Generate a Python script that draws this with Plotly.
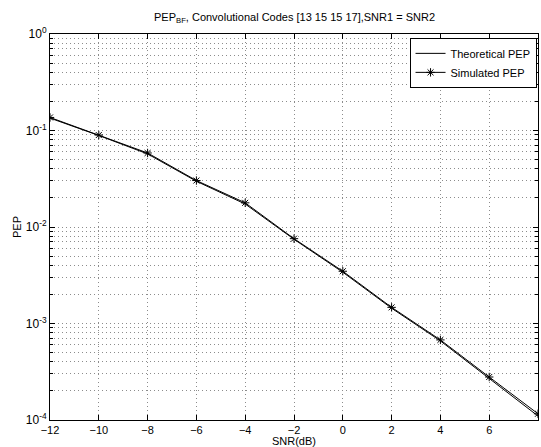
import plotly.graph_objects as go

snr_db = [-12, -10, -8, -6, -4, -2, 0, 2, 4, 6, 8]
pep_theoretical = [0.1345, 0.0888, 0.0572, 0.0298, 0.0173, 0.00746, 0.00340, 0.00144, 0.000660, 0.000272, 0.000110]
pep_simulated = [0.1365, 0.0897, 0.0585, 0.0303, 0.0178, 0.00757, 0.00348, 0.00147, 0.000676, 0.000279, 0.000116]

x_ticks = [-12, -10, -8, -6, -4, -2, 0, 2, 4, 6, 8]
decades = [-4, -3, -2, -1, 0]

y_tickvals = [10.0 ** d for d in decades]
y_ticktext = [f"10<sup>{d}</sup>" for d in decades]

font = "Liberation Sans, Arial, Helvetica, sans-serif"

fig = go.Figure()
fig.add_trace(go.Scatter(
    x=snr_db, y=pep_theoretical, mode="lines", name="Theoretical PEP",
    line=dict(color="black", width=1),
))
fig.add_trace(go.Scatter(
    x=snr_db, y=pep_simulated, mode="lines+markers", name="Simulated PEP",
    line=dict(color="black", width=1),
    marker=dict(symbol="asterisk-open", size=7, color="black", line=dict(width=1, color="black")),
))

fig.update_layout(
    width=541, height=447,
    margin=dict(l=50, r=2, t=34, b=25),
    paper_bgcolor="white", plot_bgcolor="white",
    font=dict(family=font, size=11, color="black"),
    title=dict(text="PEP<sub>BF</sub>, Convolutional Codes [13 15 15 17],SNR1 = SNR2",
               x=(50 + 539) / 2 / 541, xanchor="center", y=1 - 17 / 447, yanchor="middle",
               font=dict(size=11)),
    legend=dict(x=0.997, y=0.99, xanchor="right", yanchor="top",
                bgcolor="white", bordercolor="black", borderwidth=1,
                font=dict(size=11), tracegroupgap=0, itemwidth=30),
    showlegend=True,
)

grid_color = "#8c8c8c"
grid_dash = "1px,3px"

fig.update_xaxes(
    range=[-12, 8], tickvals=x_ticks, ticktext=[("\u2212" + str(-v)) if v < 0 else str(v) for v in x_ticks],
    showline=True, linecolor="black", linewidth=1, mirror="allticks",
    ticks="inside", ticklen=5, tickcolor="black",
    showgrid=True, gridcolor=grid_color, griddash=grid_dash, gridwidth=1,
    zeroline=False,
    title=dict(text="SNR(dB)", standoff=1, font=dict(size=11)),
    tickfont=dict(size=11),
)
fig.update_yaxes(
    type="log", range=[-4, 0], tickvals=y_tickvals, ticktext=y_ticktext,
    showline=True, linecolor="black", linewidth=1, mirror="allticks",
    ticks="inside", ticklen=5, tickcolor="black",
    showgrid=True, gridcolor=grid_color, griddash=grid_dash, gridwidth=1,
    minor=dict(dtick="D1", ticks="inside", ticklen=3, tickcolor="black",
               showgrid=True, gridcolor=grid_color, griddash=grid_dash, gridwidth=1),
    zeroline=False,
    title=dict(text="PEP", standoff=1, font=dict(size=11)),
    tickfont=dict(size=12),
)

fig.write_html("out.html", config={"displayModeBar": False},
               post_script="document.body.style.margin='0';document.body.style.overflow='hidden';")
